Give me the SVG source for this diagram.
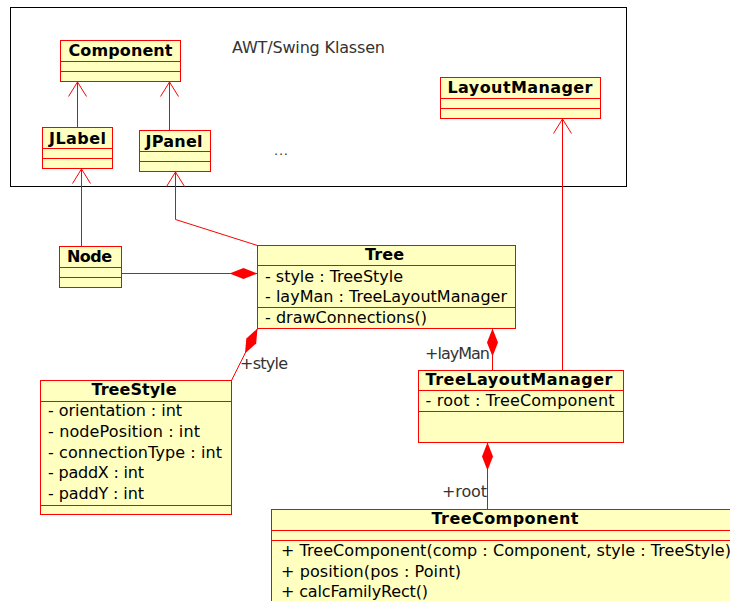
<svg xmlns="http://www.w3.org/2000/svg" width="730" height="601" viewBox="0 0 730 601">
  <defs>
    <style>
      .box { fill: #ffffc0; stroke: #ff0000; stroke-width: 1; }
      .sep { stroke: #ff0000; stroke-width: 1; fill: none; }
      .frame { fill: none; stroke: #000000; stroke-width: 1; }
      .title { font-family: "DejaVu Sans", "Liberation Sans", sans-serif; font-weight: bold; font-size: 16px; fill: #000000; text-anchor: middle; }
      .attr { font-family: "DejaVu Sans", "Liberation Sans", sans-serif; font-size: 16px; fill: #000000; }
      .lbl { font-family: "DejaVu Sans", "Liberation Sans", sans-serif; font-size: 16px; fill: #333333; }
      .dots { font-family: "DejaVu Sans", "Liberation Sans", sans-serif; font-size: 13px; fill: #333333; }
      .edge { stroke: #ff0000; stroke-width: 1; fill: none; }
      .gen { marker-end: url(#openArrow); }
      .comp { marker-end: url(#diamond); }
    </style>
    <!-- open arrowhead, tip at the line end -->
    <marker id="openArrow" markerUnits="userSpaceOnUse" viewBox="-16 -11 18 22" refX="0" refY="0" markerWidth="18" markerHeight="22" orient="auto" overflow="visible">
      <path d="M-14.5,-9 L0,0 L-14.5,9" fill="none" stroke="#ff0000" stroke-width="1"/>
    </marker>
    <!-- filled composition diamond, tip at the line end -->
    <marker id="diamond" markerUnits="userSpaceOnUse" viewBox="-30 -6 31 12" refX="0" refY="0" markerWidth="31" markerHeight="12" orient="auto" overflow="visible">
      <path d="M0,0 L-14,-5.5 L-28,0 L-14,5.5 Z" fill="#ff0000" stroke="none"/>
    </marker>
  </defs>

  <rect width="730" height="601" fill="#ffffff"/>

  <!-- package frame for the AWT/Swing classes -->
  <g id="awtSwingFrame">
    <rect class="frame" x="10.5" y="7.5" width="616" height="179"/>
    <text class="lbl" x="232" y="53" textLength="153" lengthAdjust="spacing">AWT/Swing Klassen</text>
    <text class="dots" x="274" y="155" textLength="14" lengthAdjust="spacing">...</text>
  </g>

  <!-- connectors -->
  <g id="connectors">
    <line class="edge gen" x1="77.5" y1="127.5" x2="77.5" y2="82"/>
    <line class="edge gen" x1="169.5" y1="130.5" x2="169.5" y2="82"/>
    <line class="edge gen" x1="81.5" y1="246.5" x2="81.5" y2="169"/>
    <polyline class="edge gen" points="257.5,245.5 175.5,219.5 175.5,172"/>
    <line class="edge gen" x1="562.5" y1="370.5" x2="562.5" y2="119"/>
    <line class="edge comp" x1="121.5" y1="273.5" x2="257.5" y2="273.5"/>
    <line class="edge comp" x1="231.5" y1="380.5" x2="257.5" y2="328.5"/>
    <line class="edge comp" x1="492.5" y1="370.5" x2="492.5" y2="328.5"/>
    <line class="edge comp" x1="487.5" y1="509.5" x2="487.5" y2="442.5"/>
    <text class="lbl" x="240" y="369" textLength="48" lengthAdjust="spacing">+style</text>
    <text class="lbl" x="425" y="359" textLength="65" lengthAdjust="spacing">+layMan</text>
    <text class="lbl" x="442" y="497" textLength="45" lengthAdjust="spacing">+root</text>
  </g>

  <g id="Component">
    <rect class="box" x="60.5" y="40.5" width="120" height="41"/>
    <line class="sep" x1="60.5" y1="61.5" x2="180.5" y2="61.5"/>
    <line class="sep" x1="60.5" y1="71.5" x2="180.5" y2="71.5"/>
    <text class="title" x="120.5" y="56" textLength="104" lengthAdjust="spacing">Component</text>
  </g>

  <g id="JLabel">
    <rect class="box" x="42.5" y="127.5" width="70" height="41"/>
    <line class="sep" x1="42.5" y1="148.5" x2="112.5" y2="148.5"/>
    <line class="sep" x1="42.5" y1="158.5" x2="112.5" y2="158.5"/>
    <text class="title" x="77.5" y="144" textLength="57" lengthAdjust="spacing">JLabel</text>
  </g>

  <g id="JPanel">
    <rect class="box" x="139.5" y="130.5" width="71" height="41"/>
    <line class="sep" x1="139.5" y1="151.5" x2="210.5" y2="151.5"/>
    <line class="sep" x1="139.5" y1="161.5" x2="210.5" y2="161.5"/>
    <text class="title" x="174" y="147" textLength="57" lengthAdjust="spacing">JPanel</text>
  </g>

  <g id="LayoutManager">
    <rect class="box" x="440.5" y="77.5" width="160" height="41"/>
    <line class="sep" x1="440.5" y1="98.5" x2="600.5" y2="98.5"/>
    <line class="sep" x1="440.5" y1="108.5" x2="600.5" y2="108.5"/>
    <text class="title" x="520" y="93" textLength="145" lengthAdjust="spacing">LayoutManager</text>
  </g>

  <g id="Node">
    <rect class="box" x="59.5" y="246.5" width="62" height="41"/>
    <line class="sep" x1="59.5" y1="267.5" x2="121.5" y2="267.5"/>
    <line class="sep" x1="59.5" y1="277.5" x2="121.5" y2="277.5"/>
    <text class="title" x="89.5" y="261.5" textLength="45" lengthAdjust="spacing">Node</text>
  </g>

  <g id="Tree">
    <rect class="box" x="257.5" y="245.5" width="258" height="83"/>
    <line class="sep" x1="257.5" y1="265.5" x2="515.5" y2="265.5"/>
    <line class="sep" x1="257.5" y1="307.5" x2="515.5" y2="307.5"/>
    <text class="title" x="384.5" y="260" textLength="39" lengthAdjust="spacing">Tree</text>
    <text class="attr" x="265" y="281.5" textLength="138" lengthAdjust="spacing">- style : TreeStyle</text>
    <text class="attr" x="265" y="301.5" textLength="242" lengthAdjust="spacing">- layMan : TreeLayoutManager</text>
    <text class="attr" x="265" y="322.5" textLength="162" lengthAdjust="spacing">- drawConnections()</text>
  </g>

  <g id="TreeStyle">
    <rect class="box" x="40.5" y="380.5" width="191" height="134"/>
    <line class="sep" x1="40.5" y1="401.5" x2="231.5" y2="401.5"/>
    <line class="sep" x1="40.5" y1="505.5" x2="231.5" y2="505.5"/>
    <text class="title" x="134" y="395" textLength="85" lengthAdjust="spacing">TreeStyle</text>
    <text class="attr" x="48" y="416" textLength="134" lengthAdjust="spacing">- orientation : int</text>
    <text class="attr" x="48" y="437" textLength="152" lengthAdjust="spacing">- nodePosition : int</text>
    <text class="attr" x="48" y="457.5" textLength="174" lengthAdjust="spacing">- connectionType : int</text>
    <text class="attr" x="48" y="478" textLength="96" lengthAdjust="spacing">- paddX : int</text>
    <text class="attr" x="48" y="499" textLength="96" lengthAdjust="spacing">- paddY : int</text>
  </g>

  <g id="TreeLayoutManager">
    <rect class="box" x="418.5" y="370.5" width="205" height="72"/>
    <line class="sep" x1="418.5" y1="390.5" x2="623.5" y2="390.5"/>
    <line class="sep" x1="418.5" y1="411.5" x2="623.5" y2="411.5"/>
    <text class="title" x="519" y="385" textLength="187" lengthAdjust="spacing">TreeLayoutManager</text>
    <text class="attr" x="425.5" y="406" textLength="189" lengthAdjust="spacing">- root : TreeComponent</text>
  </g>

  <g id="TreeComponent">
    <rect class="box" x="271.5" y="509.5" width="467" height="110"/>
    <line class="sep" x1="271.5" y1="530.5" x2="738.5" y2="530.5"/>
    <line class="sep" x1="271.5" y1="540.5" x2="738.5" y2="540.5"/>
    <text class="title" x="505" y="524" textLength="147" lengthAdjust="spacing">TreeComponent</text>
    <text class="attr" x="281" y="555.5" textLength="450" lengthAdjust="spacing">+ TreeComponent(comp : Component, style : TreeStyle)</text>
    <text class="attr" x="281" y="576.5" textLength="180" lengthAdjust="spacing">+ position(pos : Point)</text>
    <text class="attr" x="281" y="597" textLength="147" lengthAdjust="spacing">+ calcFamilyRect()</text>
  </g>
</svg>
